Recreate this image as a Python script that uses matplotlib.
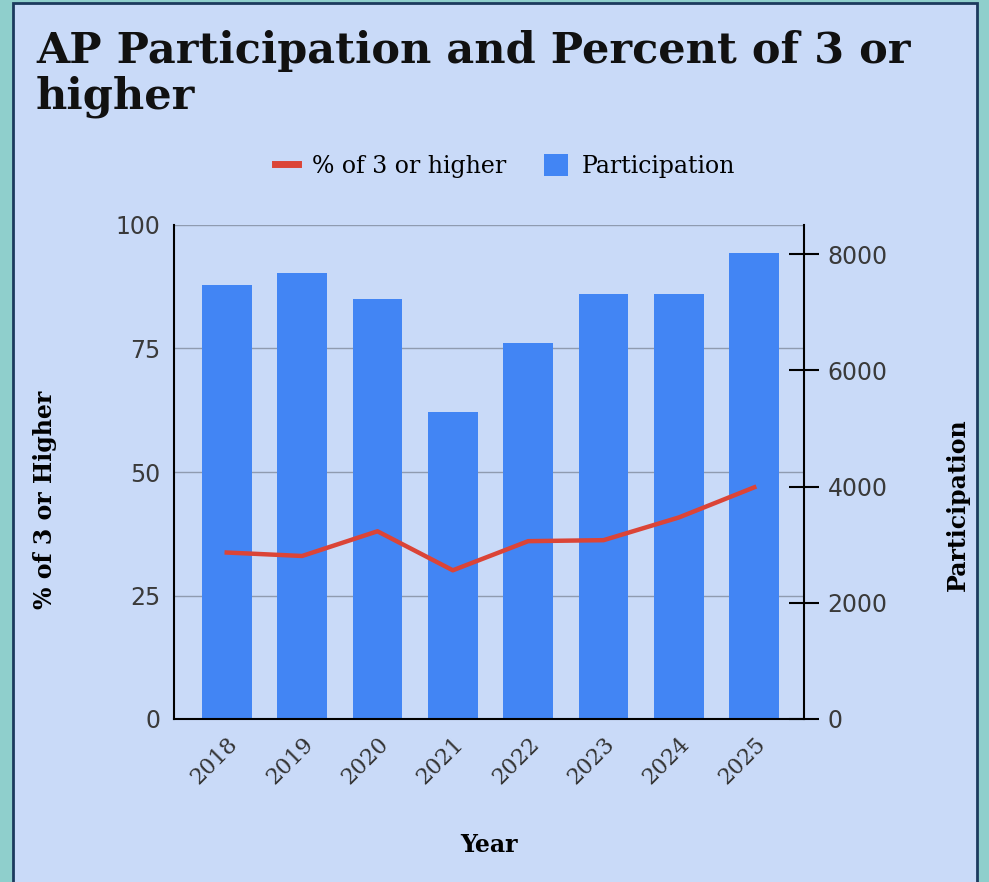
import matplotlib
matplotlib.use("Agg")
import matplotlib.pyplot as plt
from matplotlib.patches import Rectangle, Patch
from matplotlib.lines import Line2D
import numpy as np

# データ
years = ["2018", "2019", "2020", "2021", "2022", "2023", "2024", "2025"]
participation = [7470, 7680, 7225, 5290, 6475, 7317, 7317, 8018]
pct_3_or_higher = [33.7, 33.0, 38.0, 30.1, 36.0, 36.2, 40.8, 46.9]
left_ticks = [0, 25, 50, 75, 100]
right_ticks = [0, 2000, 4000, 6000, 8000]

bg = "#c9daf8"
bar_color = "#4285f4"
line_color = "#db4437"
serif = ["DejaVu Serif"]

fig = plt.figure(figsize=(9.89, 8.82), dpi=100)
fig.patch.set_facecolor("#8fcfcc")
fig.patches.append(Rectangle((13 / 989, -0.01), (977 - 13) / 989, 1.01 - 3 / 882,
                             transform=fig.transFigure, facecolor=bg,
                             edgecolor="#1c3a5e", linewidth=2, zorder=-1))

ax = fig.add_axes([174 / 989, 1 - 719 / 882, 630 / 989, 494 / 882])
ax.set_facecolor("none")
ax2 = ax.twinx()

x = np.arange(len(years))
# 棒グラフ（右軸）
ax2.bar(x, participation, width=0.66, color=bar_color, zorder=2)
ax2.set_ylim(0, 8500)
ax2.set_yticks(right_ticks)
ax2.tick_params(axis="y", direction="inout", length=22, width=1.5, color="black",
                labelsize=17, labelcolor="#3a3a3a", pad=6)

# 折れ線（左軸）を前面に
ax.set_zorder(ax2.get_zorder() + 1)
ax.plot(x, pct_3_or_higher, color=line_color, linewidth=3.2, zorder=3)
ax.set_ylim(0, 100)
ax.set_yticks(left_ticks)
ax.tick_params(axis="y", length=0, labelsize=17, labelcolor="#3a3a3a", pad=10)
ax.set_xlim(-0.70, 7.66)
ax.set_xticks(x)
ax.set_xticklabels(years, rotation=45, ha="right", rotation_mode="anchor",
                   fontfamily=serif, fontsize=16, color="#333333")
ax.tick_params(axis="x", length=0, pad=10)

# グリッドは棒の背面に
for v in left_ticks[1:]:
    ax2.axhline(v * 85, color="#8f9bb0", linewidth=1, zorder=1)

for a in (ax, ax2):
    a.spines["top"].set_visible(False)
ax.spines["right"].set_visible(False)
ax.spines["left"].set_linewidth(1.5)
ax.spines["bottom"].set_linewidth(1.5)
ax2.spines["left"].set_visible(False)
ax2.spines["bottom"].set_visible(False)
ax2.spines["right"].set_linewidth(1.5)
for lab in ax.get_yticklabels() + ax2.get_yticklabels():
    lab.set_fontfamily("DejaVu Sans")

# タイトル
fig.text(36 / 989, 1 - 30 / 882, "AP Participation and Percent of 3 or\nhigher",
         fontfamily=serif, fontweight="bold", fontsize=31, va="top", ha="left",
         linespacing=1.12, color="#111111")

# 凡例
handles = [Line2D([0], [0], color=line_color, linewidth=5),
           Patch(facecolor=bar_color)]
fig.legend(handles, ["% of 3 or higher", "Participation"], loc="center",
           bbox_to_anchor=(505 / 989, 1 - 166 / 882), ncol=2, frameon=False,
           prop={"family": serif, "size": 17}, handlelength=1.0, handleheight=1.1,
           columnspacing=1.6, handletextpad=0.6)

# 軸ラベル
fig.text(45 / 989, 1 - 500 / 882, "% of 3 or Higher", rotation=90, ha="center",
         va="center", fontfamily=serif, fontweight="bold", fontsize=17)
fig.text(958 / 989, 1 - 505 / 882, "Participation", rotation=90, ha="center",
         va="center", fontfamily=serif, fontweight="bold", fontsize=17)
fig.text(489 / 989, 1 - 845 / 882, "Year", ha="center", va="center",
         fontfamily=serif, fontweight="bold", fontsize=17)

fig.savefig("out.png", dpi=100, facecolor=fig.get_facecolor())
